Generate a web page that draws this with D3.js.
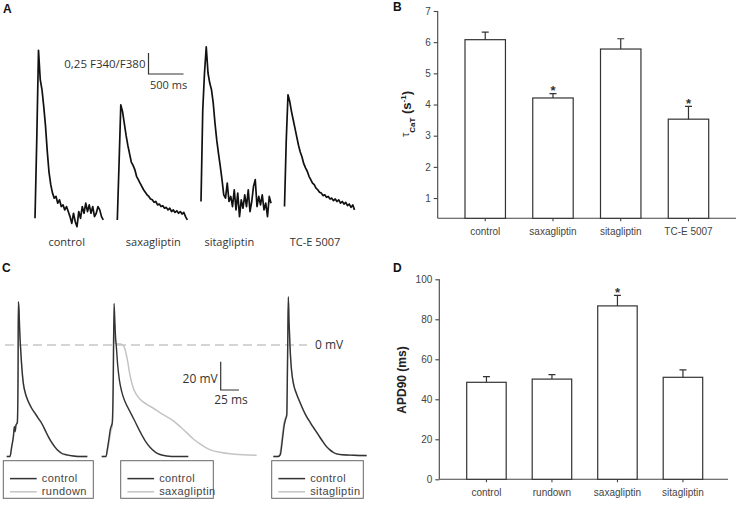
<!DOCTYPE html>
<html><head><meta charset="utf-8">
<script src="https://cdn.jsdelivr.net/npm/d3@7"></script>
<style>body{margin:0;background:#fff} svg{display:block}</style>
</head><body>
<svg id="fig" width="738" height="507"></svg>
<script>
// ---------------- DATA ----------------
// Panel B: tau of Ca transient decay
const caCategories = ["control", "saxagliptin", "sitagliptin", "TC-E 5007"];
const tauMean = [6.08, 4.21, 5.78, 3.53];
const tauErr  = [0.24, 0.14, 0.33, 0.41];
const tauSig  = [false, true, false, true];
const tauTicks = [1, 2, 3, 4, 5, 6, 7];

// Panel D: APD90
const apCategories = ["control", "rundown", "saxagliptin", "sitagliptin"];
const apdMean = [48.5, 50.1, 86.7, 51.0];
const apdErr  = [2.8, 2.2, 5.3, 3.7];
const apdSig  = [false, false, true, false];
const apdTicks = [0, 20, 40, 60, 80, 100];

// Panel A: Ca transients (F340/F380 change), sampled every 25 ms
const caStepMs = 25;
const caTraceNames = ["control", "saxagliptin", "sitagliptin", "TC-E 5007"];
const caControl = [0.00, 0.93, 2.00, 1.65, 1.53, 1.33, 1.10, 0.80, 0.55, 0.40, 0.30, 0.24, 0.26, 0.18, 0.22, 0.14,
  0.16, 0.10, 0.14, 0.08, 0.02, -0.06, 0.06, -0.04, -0.10, 0.08, 0.00, 0.14, 0.06, 0.18, 0.08, 0.16,
  0.06, 0.14, 0.02, 0.06, 0.14, 0.10, 0.02, -0.02];
const caSaxa = [-0.02, 0.65, 1.35, 1.27, 1.13, 0.99, 0.87, 0.77, 0.67, 0.63, 0.58, 0.50, 0.46, 0.42, 0.38, 0.34,
  0.31, 0.28, 0.26, 0.23, 0.22, 0.19, 0.20, 0.16, 0.17, 0.14, 0.15, 0.12, 0.13, 0.10, 0.12, 0.08,
  0.10, 0.07, 0.09, 0.06, 0.08, 0.05, 0.07, 0.02, -0.02];
const caSita = [0.20, 1.29, 1.73, 2.04, 1.73, 1.61, 1.53, 1.37, 1.13, 0.93, 0.77, 0.62, 0.46, 0.28, 0.24, 0.42,
  0.20, 0.26, 0.14, 0.34, 0.10, 0.30, 0.02, 0.22, 0.12, 0.28, 0.14, 0.34, 0.08, 0.20, 0.38, 0.46,
  0.14, 0.26, 0.16, 0.28, 0.10, 0.18, 0.02, 0.26, 0.18];
const caTCE = [0.14, 0.93, 1.47, 1.39, 1.27, 1.17, 1.07, 0.97, 0.87, 0.79, 0.73, 0.65, 0.60, 0.56, 0.50, 0.46,
  0.42, 0.40, 0.36, 0.34, 0.31, 0.30, 0.27, 0.28, 0.25, 0.26, 0.23, 0.24, 0.21, 0.23, 0.20, 0.22,
  0.18, 0.20, 0.17, 0.19, 0.15, 0.17, 0.13, 0.16, 0.10];

// Panel C: action potentials [time ms, membrane potential mV]
const apControl1 = [[0,-78.8],[4.5,-78.8],[6.8,-71.8],[9.1,-64.7],[10.5,-57.6],[11.4,-61.2],[12.7,-56.5],[14.5,-54.8],
  [15.5,-20],[15.9,30.6],[16.8,24.7],[17.7,10.6],[19.1,-3.5],[20.9,-17.6],[22.7,-27.1],[25.5,-34.1],[29.5,-40],
  [34.1,-44.7],[38.6,-48.2],[43.2,-51.8],[47.7,-55.3],[52.3,-60],[56.8,-64.7],[61.4,-68.9],[65.9,-72.2],
  [70.5,-74.8],[75,-76.5],[81.8,-77.6],[90.9,-78.4],[100,-78.8],[110,-78.8]];
const apRundown = [[0,-78.8],[4.5,-78.8],[6.8,-72.5],[9.1,-65.5],[10.5,-58.5],[11.4,-61.5],[12.7,-57],[14.5,-55.2],
  [15.5,-21],[15.9,29.8],[16.8,24],[17.7,10],[19.1,-4],[20.9,-18],[22.7,-27.5],[25.5,-34.5],[29.5,-40.3],
  [34.1,-45],[38.6,-48.5],[43.2,-52],[47.7,-55.5],[52.3,-60.3],[56.8,-65],[61.4,-69.2],[65.9,-72.5],
  [70.5,-75],[75,-76.7],[81.8,-77.8],[90.9,-78.5],[100,-78.8],[110,-78.8]];
const apControl2 = [[0,-78.8],[5.9,-78.8],[7.7,-73.6],[10,-65.9],[11.8,-59.5],[13.2,-57.2],[14.5,-54.8],[15.9,-20],
  [16.8,29.4],[17.7,20],[18.6,8.2],[20,-1.2],[21.8,-14.1],[24.1,-24.7],[27.3,-32.9],[31.8,-40],[38.6,-47.1],
  [45.5,-54.1],[52.3,-61.2],[59.1,-67.5],[65.9,-72.2],[72.7,-75.5],[79.5,-77.4],[88.6,-78.4],[102.3,-78.8],[118.2,-78.8]];
const apSaxa = [[0,-78.8],[5.9,-78.8],[7.7,-75.3],[10.5,-67.1],[12.3,-61.2],[14.1,-57.6],[15.5,-31.8],[16.4,15.3],
  [17.3,8.2],[18.2,1.6],[20.5,0.7],[25,0.7],[28.6,0],[30.9,-1.6],[33.2,-5.9],[35.5,-11.8],[37.7,-18.8],[40,-24.7],
  [43.2,-30.6],[47.7,-35.3],[52.3,-38.4],[61.4,-41.9],[70.5,-44.7],[79.5,-47.8],[88.6,-50.6],[97.7,-53.6],
  [106.8,-57.6],[115.9,-61.9],[125,-66.4],[134.1,-69.9],[143.2,-72.9],[152.3,-74.8],[161.4,-75.8],[175,-76.9],
  [193.2,-77.6],[211.4,-77.9]];
const apControl3 = [[0,-78.8],[6.8,-78.8],[9.6,-77.5],[11.4,-71.5],[13.2,-63.5],[15,-56.5],[16.8,-52.5],[18.4,-49.5],
  [19.5,-8],[20.5,34.1],[21.4,17.6],[22.7,0],[24.1,-12.9],[25.9,-22.4],[28.2,-28.9],[31.8,-34.6],[36.4,-40.5],
  [40.9,-45.9],[45.5,-50.6],[50,-54.4],[54.5,-58.1],[59.1,-61.6],[63.6,-65.2],[68.2,-68.7],[72.7,-71.8],
  [77.3,-74.1],[81.8,-75.8],[86.4,-76.9],[95.5,-77.6],[109.1,-77.9],[127.3,-78.1]];
const apSita = [[0,-78.8],[6.8,-78.8],[9.1,-76.9],[10.9,-70.6],[12.7,-62.4],[14.5,-55.3],[16.4,-51.8],[18.2,-49],
  [19.5,-10],[20.5,33],[21.4,17],[22.7,-0.5],[24.1,-13.2],[25.9,-22.6],[28.2,-29.2],[31.8,-34.9],[36.4,-40.8],
  [40.9,-46.2],[45.5,-50.9],[50,-54.7],[54.5,-58.4],[59.1,-61.9],[63.6,-65.5],[68.2,-69],[72.7,-72],
  [77.3,-74.3],[81.8,-76],[86.4,-77],[95.5,-77.7],[109.1,-78],[127.3,-78.2]];

// ---------------- DRAWING ----------------
const svg = d3.select("#fig");
const SANS = "'Liberation Sans', Arial, sans-serif";
const SOFT = "'Open Sans', sans-serif";

function panelLetter(t, x, y) {
  svg.append("text").attr("x", x).attr("y", y).text(t)
    .style("font-family", SANS).style("font-weight", "bold").style("font-size", "12px").attr("fill", "#111");
}
panelLetter("A", 3, 13);
panelLetter("B", 393, 10.5);
panelLetter("C", 2, 272);
panelLetter("D", 393, 272);

// ---- Panel A ----
const aX = d3.scaleLinear().domain([0, 1000]).range([0, 70]);
const aY = d3.scaleLinear().domain([0, 1]).range([218.3, 134.3]);
const aLeft = [35, 117.3, 201, 284.5];
const aLabelX = [66.7, 153.3, 229.3, 315];
const caSeries = [caControl, caSaxa, caSita, caTCE];
const aLine = d3.line().x((d, i) => aX(i * caStepMs)).y(d => aY(d));
caSeries.forEach((s, k) => {
  svg.append("path").attr("transform", `translate(${aLeft[k]},0)`)
    .attr("d", aLine(s)).attr("fill", "none").attr("stroke", "#111")
    .attr("stroke-width", 1.7).attr("stroke-linejoin", "round");
  svg.append("text").attr("x", aLabelX[k]).attr("y", 245.5).attr("text-anchor", "middle")
    .style("font-family", SOFT).style("font-size", "11px").attr("fill", "#333").text(caTraceNames[k]);
});
{
  const x0 = 148.5, y0 = 74;
  const h = aY(0) - aY(0.25), w = aX(500);
  svg.append("path").attr("d", `M${x0},${y0 - h}V${y0}H${x0 + w}`)
    .attr("fill", "none").attr("stroke", "#333").attr("stroke-width", 1.2);
  svg.append("text").attr("x", x0 - 3).attr("y", 68).attr("text-anchor", "end")
    .style("font-family", SOFT).style("font-size", "11.5px").attr("fill", "#333").text("0,25 F340/F380");
  svg.append("text").attr("x", x0 + 1.5).attr("y", 88.5)
    .style("font-family", SOFT).style("font-size", "11px").attr("fill", "#333").text("500 ms");
}

// ---- bar chart helper ----
function barPanel(opt) {
  const g = svg.append("g");
  const y = d3.scaleLinear().domain(opt.yDomain).range([opt.bottom, opt.top]);
  const x = d3.scaleBand().domain(opt.cats).range(opt.barRange).paddingInner(opt.pad);
  // y axis
  const ya = g.append("g").attr("transform", `translate(${opt.axisX},0)`)
    .call(d3.axisLeft(y).tickValues(opt.ticks).tickFormat(d3.format("d"))
      .tickSize(4).tickSizeOuter(0).tickPadding(3));
  ya.select(".domain").attr("d", `M0,${y(opt.ticks[opt.ticks.length - 1])}V${opt.bottom}`);
  // x axis
  const xa = g.append("g").attr("transform", `translate(0,${opt.bottom})`)
    .call(d3.axisBottom(x).tickSize(3).tickPadding(7));
  xa.select(".domain").attr("d", `M${opt.axisX},0H${opt.xEnd}`);
  [ya, xa].forEach(a => {
    a.selectAll("path,line").attr("stroke", "#444").attr("stroke-width", 1.1);
    a.selectAll("text").style("font-family", SANS).style("font-size", "10px").attr("fill", "#444");
  });
  // bars
  g.selectAll("rect.bar").data(opt.means).join("rect")
    .attr("x", (d, i) => x(opt.cats[i])).attr("width", x.bandwidth())
    .attr("y", d => y(d)).attr("height", d => opt.bottom - y(d))
    .attr("fill", "#fff").attr("stroke", "#333").attr("stroke-width", 1.2);
  // error bars
  opt.means.forEach((m, i) => {
    const cx = x(opt.cats[i]) + x.bandwidth() / 2;
    const yt = y(m + opt.errs[i]);
    g.append("path").attr("d", `M${cx},${y(m)}V${yt}M${cx - 3.5},${yt}H${cx + 3.5}`)
      .attr("fill", "none").attr("stroke", "#333").attr("stroke-width", 1.2);
    if (opt.sig[i]) {
      g.append("text").attr("x", cx).attr("y", yt + 1.5).attr("text-anchor", "middle")
        .style("font-family", SANS).style("font-weight", "bold").style("font-size", "13px")
        .attr("fill", "#333").text("*");
    }
  });
  return g;
}

barPanel({ cats: caCategories, means: tauMean, errs: tauErr, sig: tauSig, ticks: tauTicks,
  yDomain: [0.35, 7], bottom: 218.3, top: 11, axisX: 437.7, xEnd: 736,
  barRange: [465, 708.7], pad: 0.403 });
barPanel({ cats: apCategories, means: apdMean, errs: apdErr, sig: apdSig, ticks: apdTicks,
  yDomain: [0, 100], bottom: 479.3, top: 279.3, axisX: 439.3, xEnd: 728,
  barRange: [466.7, 702.7], pad: 0.397 });

// y labels
{
  const tl = svg.append("text").attr("transform", "translate(411,114) rotate(-90)")
    .attr("text-anchor", "middle").style("font-family", SANS).style("font-weight", "bold").attr("fill", "#222");
  tl.append("tspan").style("font-size", "11px").style("font-weight", "normal").attr("dy", -2).text("τ");
  tl.append("tspan").style("font-size", "8px").attr("dy", 6).text("CaT");
  tl.append("tspan").style("font-size", "13px").attr("dy", -4).text(" (s");
  tl.append("tspan").style("font-size", "8px").attr("dy", -5).text("-1");
  tl.append("tspan").style("font-size", "13px").attr("dy", 5).text(")");
  svg.append("text").attr("transform", "translate(405.5,380) rotate(-90)").attr("text-anchor", "middle")
    .style("font-family", SANS).style("font-weight", "bold").style("font-size", "12px").attr("fill", "#222")
    .text("APD90 (ms)");
}

// ---- Panel C ----
const cX = d3.scaleLinear().domain([0, 100]).range([0, 73.3]);
const cY = d3.scaleLinear().domain([0, 20]).range([345, 316.7]);
const DARK = "#333", LIGHT = "#c4c4c4";
svg.append("line").attr("x1", 5).attr("x2", 307).attr("y1", cY(0)).attr("y2", cY(0))
  .attr("stroke", "#c8c8c8").attr("stroke-width", 1.6).attr("stroke-dasharray", "9,5");
svg.append("text").attr("x", 315).attr("y", cY(0) + 4.2)
  .style("font-family", SOFT).style("font-size", "12px").attr("fill", "#333").text("0 mV");

const cLine = d3.line().x(d => cX(d[0])).y(d => cY(d[1])).curve(d3.curveMonotoneX);
const cGroups = [
  { x0: 6.7, a: apRundown, b: apControl1, name: "rundown", box: [3.3, 93.3] },
  { x0: 101.7, a: apSaxa, b: apControl2, name: "saxagliptin", box: [120.7, 213.3] },
  { x0: 273.3, a: apSita, b: apControl3, name: "sitagliptin", box: [271.7, 363.3] }
];
cGroups.forEach(gp => {
  const g = svg.append("g").attr("transform", `translate(${gp.x0},0)`);
  g.append("path").attr("d", cLine(gp.a)).attr("fill", "none").attr("stroke", LIGHT).attr("stroke-width", 1.5);
  g.append("path").attr("d", cLine(gp.b)).attr("fill", "none").attr("stroke", DARK).attr("stroke-width", 1.4);
  // legend box
  const [bx0, bx1] = gp.box;
  svg.append("rect").attr("x", bx0).attr("y", 460.7).attr("width", bx1 - bx0).attr("height", 37.6)
    .attr("fill", "#fff").attr("stroke", "#666").attr("stroke-width", 1);
  const items = [["control", DARK, 472.6], [gp.name, LIGHT, 485.8]];
  items.forEach(([lab, col, yy]) => {
    svg.append("line").attr("x1", bx0 + 6.7).attr("x2", bx0 + 33.4).attr("y1", yy + 6).attr("y2", yy + 6)
      .attr("stroke", col).attr("stroke-width", 1.5);
    svg.append("text").attr("x", bx0 + 38.5).attr("y", yy).attr("dy", "0.85em")
      .style("font-family", SANS).style("font-size", "11px").style("letter-spacing", "0.4px")
      .attr("fill", "#444").text(lab);
  });
});
{
  const x0 = 220.7, y0 = 390;
  const h = cY(0) - cY(20), w = cX(25);
  svg.append("path").attr("d", `M${x0},${y0 - h}V${y0}H${x0 + w}`)
    .attr("fill", "none").attr("stroke", "#333").attr("stroke-width", 1.2);
  svg.append("text").attr("x", x0 - 3).attr("y", 382.5).attr("text-anchor", "end")
    .style("font-family", SOFT).style("font-size", "12px").attr("fill", "#333").text("20 mV");
  svg.append("text").attr("x", 231).attr("y", 403.5).attr("text-anchor", "middle")
    .style("font-family", SOFT).style("font-size", "12px").attr("fill", "#333").text("25 ms");
}
</script></body></html>
